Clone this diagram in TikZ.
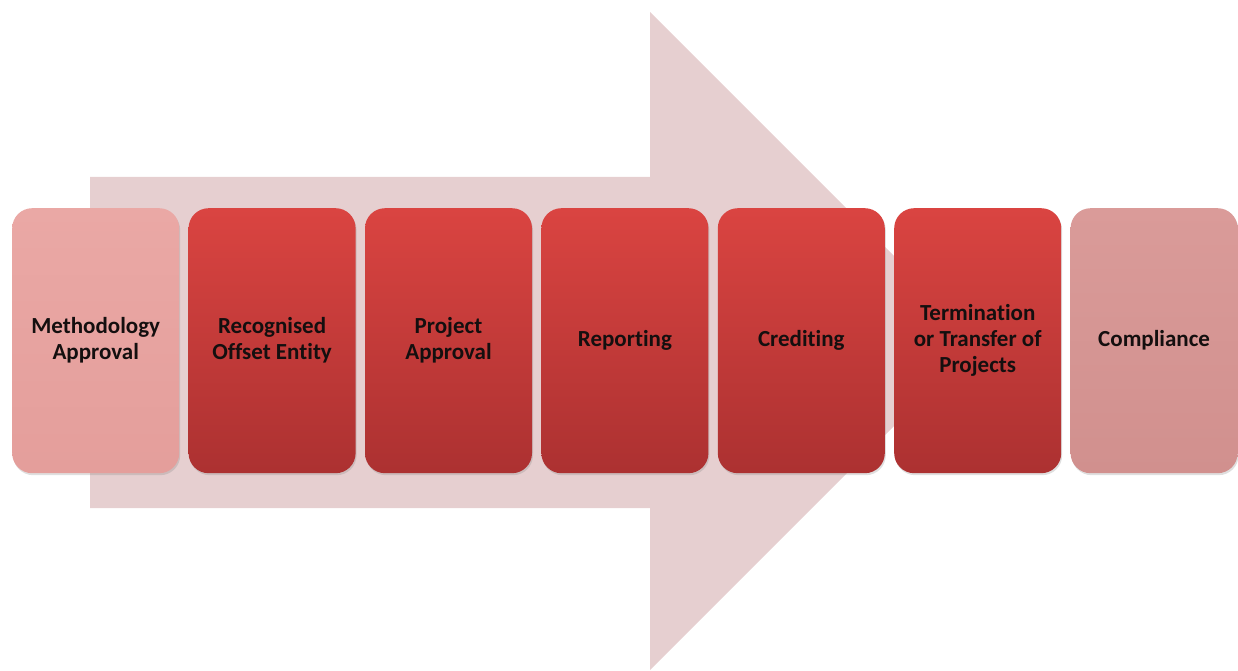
\documentclass[tikz,border=0pt]{standalone}
\usepackage{fontspec}
\setmainfont{Carlito}[Ligatures={NoCommon}]
\usepackage{tikz}
\usetikzlibrary{
	positioning,
	shadows
}

\definecolor{arrowfill}{HTML}{E6CFD0}
\definecolor{steptop}{HTML}{DA4441}
\definecolor{stepbot}{HTML}{AC3131}
\definecolor{lighttop}{HTML}{EAA8A5}
\definecolor{lightbot}{HTML}{E49E9B}
\definecolor{endtop}{HTML}{DA9B99}
\definecolor{endbot}{HTML}{D1908E}
\definecolor{steptext}{HTML}{140F0F}

\tikzset{
	stage/.style={
		rounded corners=20pt,
		minimum width=167pt,
		minimum height=265pt,
		align=center,
		inner sep=0pt,
		font=\bfseries\fontsize{23}{26}\selectfont,
		text=steptext,
		drop shadow={shadow xshift=1pt,shadow yshift=-2pt,opacity=.25}
	},
	redstage/.style={stage,top color=steptop,bottom color=stepbot},
	paleststage/.style={stage,top color=lighttop,bottom color=lightbot},
	laststage/.style={stage,top color=endtop,bottom color=endbot}
}

\begin{document}
\begin{tikzpicture}[x=1pt,y=-1pt,node distance=9pt]
		\useasboundingbox (0,0) rectangle (1238,671);

		% big process arrow behind the stages
		\fill[arrowfill]
			(90,177) -- (650,177) -- (650,12) -- (979,341)
			-- (650,670) -- (650,508) -- (90,508) -- cycle;

		\node[paleststage,anchor=north west] (method) at (12,208) {Methodology\\ Approval};
		\node[redstage,right=of method]  (entity)   {Recognised\\ Offset Entity};
		\node[redstage,right=of entity]  (project)  {Project\\ Approval};
		\node[redstage,right=of project] (report)   {Reporting};
		\node[redstage,right=of report]  (credit)   {Crediting};
		\node[redstage,right=of credit]  (transfer) {Termination\\ or Transfer of\\ Projects};
		\node[laststage,right=of transfer] (comply) {Compliance};
	\end{tikzpicture}
\end{document}
